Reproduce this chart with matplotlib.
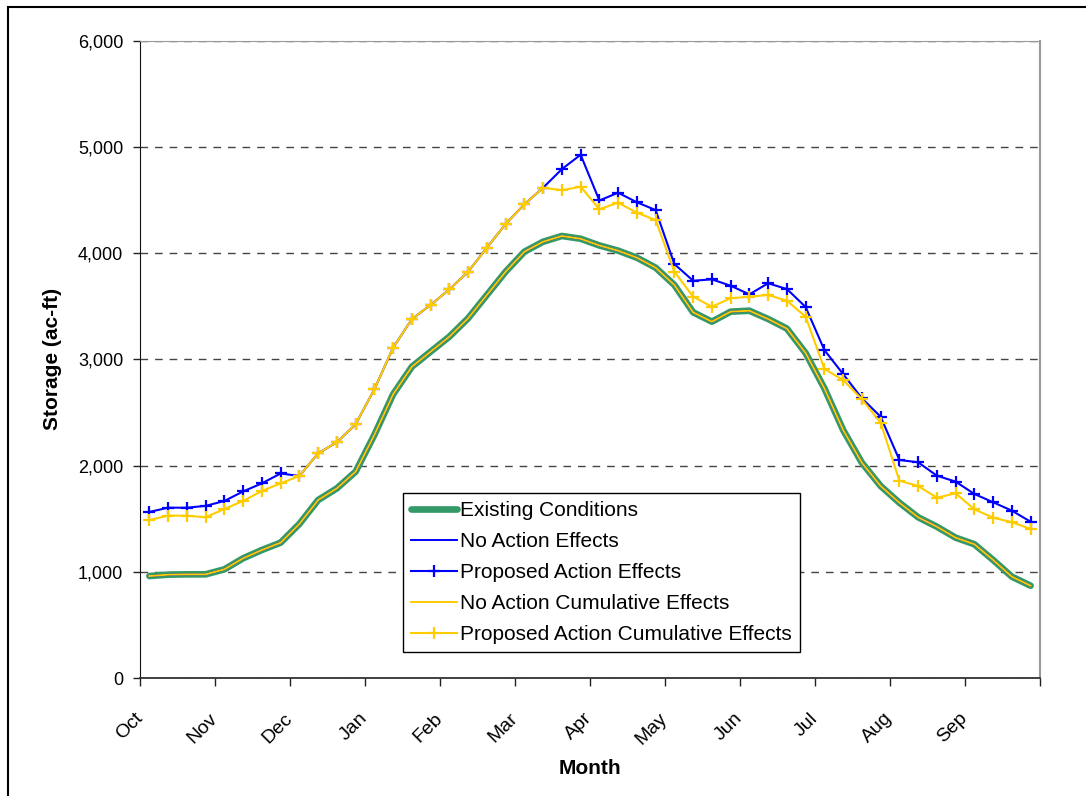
import matplotlib
matplotlib.use("Agg")
import matplotlib.pyplot as plt
from matplotlib.patches import Rectangle
from matplotlib.ticker import FuncFormatter, FixedLocator

plt.rcParams['font.family'] = ['Liberation Sans', 'DejaVu Sans']

months = ["Oct", "Nov", "Dec", "Jan", "Feb", "Mar", "Apr", "May", "Jun", "Jul", "Aug", "Sep"]
points_per_month = 4

existing = [962, 975, 978, 978, 1025, 1129, 1207, 1276, 1452, 1677, 1787, 1944,
            2290, 2672, 2931, 3073, 3214, 3387, 3606, 3825, 4013, 4107, 4161, 4135,
            4072, 4023, 3957, 3863, 3700, 3443, 3355, 3449, 3458, 3380, 3290, 3060,
            2728, 2336, 2028, 1809, 1652, 1515, 1426, 1323, 1261, 1113, 956, 871]

no_action = list(existing)
no_action_cumulative = list(existing)

proposed_action = [1565, 1605, 1605, 1622, 1668, 1758, 1834, 1927, 1903, 2117, 2220, 2390,
                   2719, 3110, 3380, 3512, 3659, 3825, 4051, 4274, 4459, 4615, 4790, 4925,
                   4495, 4568, 4478, 4405, 3897, 3740, 3753, 3693, 3612, 3716, 3662, 3493,
                   3088, 2862, 2634, 2461, 2054, 2032, 1906, 1850, 1734, 1656, 1577, 1473]

proposed_cumulative = [1489, 1530, 1530, 1515, 1593, 1668, 1762, 1834, 1903, 2117, 2220, 2390,
                       2719, 3110, 3380, 3512, 3659, 3825, 4051, 4274, 4459, 4615, 4592, 4625,
                       4413, 4474, 4380, 4311, 3825, 3590, 3496, 3575, 3590, 3606, 3552, 3402,
                       2910, 2806, 2625, 2405, 1859, 1809, 1699, 1740, 1590, 1511, 1468, 1405]

W, H = 1086, 796
fig = plt.figure(figsize=(W / 100, H / 100), dpi=100)
ax = fig.add_axes([140 / W, 1 - 678.3 / H, 900 / W, (678.3 - 40.5) / H])

n = len(existing)
x = [i + 0.5 for i in range(n)]

GREEN = "#339966"
BLUE = "#0000FF"
YELLOW = "#FFCC00"

ax.plot(x, existing, color=GREEN, lw=4.8, solid_capstyle='round', label="Existing Conditions", zorder=3)
ax.plot(x, no_action, color=BLUE, lw=1.4, label="No Action Effects", zorder=4)
ax.plot(x, proposed_action, color=BLUE, lw=1.5, marker='+', ms=9, mew=1.6,
        label="Proposed Action Effects", zorder=5)
ax.plot(x, no_action_cumulative, color=YELLOW, lw=1.4, label="No Action Cumulative Effects", zorder=6)
ax.plot(x, proposed_cumulative, color=YELLOW, lw=1.5, marker='+', ms=9, mew=1.6,
        label="Proposed Action Cumulative Effects", zorder=7)

ax.set_xlim(0, n)
ax.set_ylim(0, 6000)

ax.set_yticks(range(0, 6001, 1000))
ax.yaxis.set_major_formatter(FuncFormatter(lambda v, p: f"{int(v):,}"))
ax.grid(axis='y', color='#444444', lw=1.0, linestyle=(0, (5.5, 5)))
ax.set_axisbelow(True)

tick_pos = list(range(0, n + 1, points_per_month))
ax.xaxis.set_major_locator(FixedLocator(tick_pos))
ax.set_xticklabels(months + [""], rotation=45, ha='right', va='center',
                   rotation_mode='anchor')

ax.tick_params(axis='y', direction='out', length=5, width=1, labelsize=13, pad=7, color='#222222')
ax.tick_params(axis='x', direction='out', length=6, width=1, labelsize=14, pad=21, color='#222222')

ax.spines['left'].set_color('#111111')
ax.spines['bottom'].set_color('#333333')
ax.spines['bottom'].set_linewidth(1.3)
ax.spines['top'].set_color('#999999')
ax.spines['right'].set_color('#999999')
ax.spines['right'].set_linewidth(1.5)

ax.set_xlabel("Month", fontsize=15, fontweight='bold')
ax.xaxis.set_label_coords(0.5, -(768 - 678.3) / (678.3 - 40.5), transform=ax.transAxes)
ax.xaxis.label.set_va('center')
ax.set_ylabel("Storage (ac-ft)", fontsize=15, fontweight='bold')
ax.yaxis.set_label_coords(-(140 - 52) / 900, 0.5)
ax.yaxis.label.set_va('center')

leg = ax.legend(loc='upper left', bbox_to_anchor=(403 / W, 1 - 493 / H),
                bbox_transform=fig.transFigure, fontsize=15, frameon=True,
                fancybox=False, edgecolor='black', framealpha=1,
                handlelength=2.2, handletextpad=0.15, labelspacing=0.57,
                borderpad=0.4, borderaxespad=0)
leg.get_frame().set_linewidth(1.0)
leg.set_zorder(10)

fig.patches.append(Rectangle((8 / W, -0.1), 1.2, 1.1 - 7 / H, transform=fig.transFigure,
                             fill=False, edgecolor='black', lw=1.5))

fig.savefig("out.png", dpi=100)
